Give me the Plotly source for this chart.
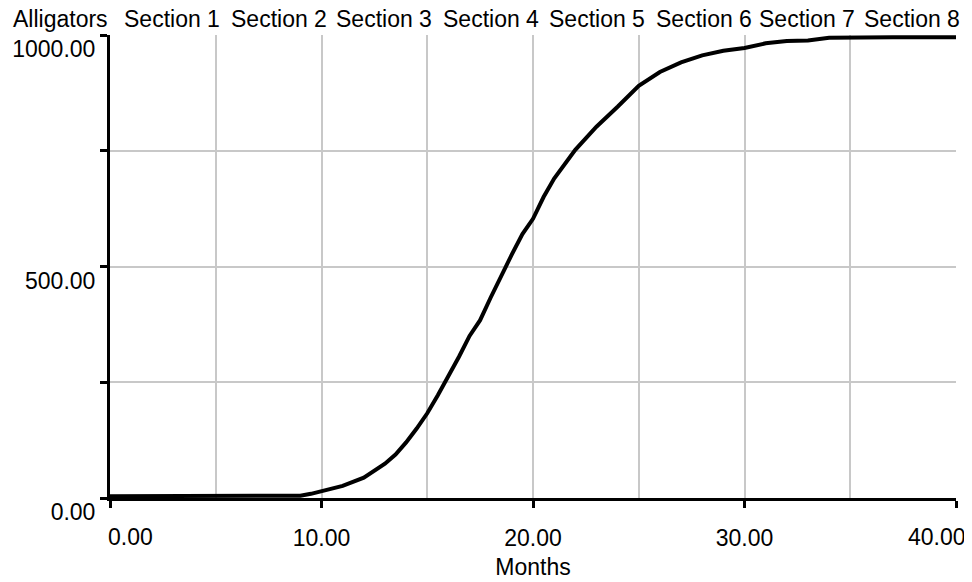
import plotly.graph_objects as go

# ---- data ----
months = [0, 1, 2, 3, 4, 5, 6, 7, 8, 9, 9.5, 10, 11, 12, 12.5, 13, 13.5, 14, 14.5,
          15, 15.5, 16, 16.5, 17, 17.5, 18, 18.5, 19, 19.5, 20, 20.5, 21, 22, 23,
          24, 25, 26, 27, 28, 29, 30, 31, 32, 33, 34, 35, 36, 37, 38, 39, 40]
alligators = [4, 4, 4, 4, 4, 4, 4, 4, 4, 5, 9, 15, 26, 44, 58, 74, 94, 120, 150,
              183, 222, 262, 305, 350, 384, 433, 482, 526, 570, 603, 650, 690, 752, 802,
              845, 890, 920, 941, 956, 966, 972, 982, 987, 988, 994, 995, 995, 995, 995, 995, 995]

header_labels = ["Alligators", "Section 1", "Section 2", "Section 3", "Section 4",
                 "Section 5", "Section 6", "Section 7", "Section 8"]
header_px = [12, 123, 230, 335, 442, 548, 655, 758, 863]  # left edge, pixels (page)

x_tick_vals = [0, 10, 20, 30, 40]
x_tick_text = ["0.00", "10.00", "20.00", "30.00", "40.00"]
y_tick_vals = [0, 500, 1000]
y_tick_text = ["0.00", "500.00", "1000.00"]

FONT = "Liberation Sans, Arial, sans-serif"
FS = 23
PAGE_OFF = 8  # default body margin of the html page
W, H = 972 - PAGE_OFF, 582 - PAGE_OFF
L, R, T, B = 110 - PAGE_OFF, 16, 35 - PAGE_OFF, 84
PW = W - L - R
PH = H - T - B
GRID = "#c8c8c8"

fig = go.Figure()
fig.add_trace(go.Scatter(x=months, y=alligators, mode="lines",
                         line=dict(color="black", width=4), showlegend=False))

fig.update_layout(
    width=W, height=H,
    margin=dict(l=L, r=R, t=T, b=B, autoexpand=False),
    paper_bgcolor="white", plot_bgcolor="white",
    font=dict(family=FONT, size=FS, color="black"),
    xaxis=dict(
        range=[0, 40], tickvals=x_tick_vals,
        ticktext=["", x_tick_text[1], x_tick_text[2], x_tick_text[3], ""],
        automargin=False,
        showline=True, linecolor="black", linewidth=3,
        ticks="outside", ticklen=7, tickwidth=3, tickcolor="black",
        ticklabelstandoff=10,
        showgrid=True, gridcolor=GRID, gridwidth=1.5,
        minor=dict(dtick=5, showgrid=True, gridcolor=GRID, gridwidth=1.5, ticks=""),
        zeroline=False,
        title=dict(text="Months", font=dict(size=FS), standoff=10),
    ),
    yaxis=dict(
        range=[0, 1000], tickvals=y_tick_vals, ticktext=y_tick_text,
        automargin=False,
        showline=True, linecolor="black", linewidth=3,
        ticks="outside", ticklen=7, tickwidth=3, tickcolor="black",
        ticklabelshift=14,
        showgrid=True, gridcolor=GRID, gridwidth=1.5,
        minor=dict(dtick=250, showgrid=True, gridcolor=GRID, gridwidth=1.5,
                   ticks="outside", ticklen=7, tickwidth=3, tickcolor="black"),
        zeroline=False,
    ),
)

# end tick labels on the x axis are kept inside the plot edges
fig.add_annotation(x=x_tick_vals[0], xref="x", y=0, yref="paper", text=x_tick_text[0],
                   showarrow=False, xanchor="left", yanchor="top", xshift=-4, yshift=-24,
                   font=dict(size=FS))
fig.add_annotation(x=x_tick_vals[-1], xref="x", y=0, yref="paper", text=x_tick_text[-1],
                   showarrow=False, xanchor="right", yanchor="top", xshift=12, yshift=-24,
                   font=dict(size=FS))

for lab, px in zip(header_labels, header_px):
    fig.add_annotation(x=(px - PAGE_OFF - L) / PW, xref="paper",
                       y=1 + (T - (19 - PAGE_OFF)) / PH, yref="paper",
                       text=lab, showarrow=False, xanchor="left", yanchor="middle",
                       borderpad=0, font=dict(size=FS))

fig.write_html("out.html")
